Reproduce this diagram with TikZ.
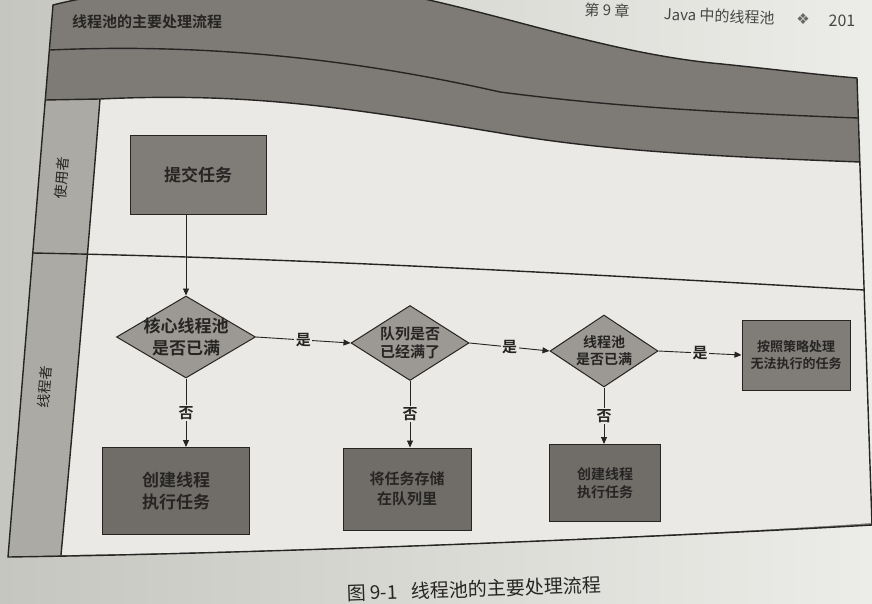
\documentclass[tikz,border=0pt]{standalone}
\usepackage{fontspec}
\setmainfont{Noto Sans CJK SC}[BoldFont={Noto Sans CJK SC Bold}]
\newfontfamily\symfont{DejaVu Sans}
\usetikzlibrary{shapes.geometric,arrows.meta}
\definecolor{pagebgL}{RGB}{198,198,193}
\definecolor{pagebgR}{RGB}{236,236,232}
\definecolor{bandgrey}{RGB}{126,123,119}
\definecolor{stripgrey}{RGB}{172,170,165}
\definecolor{areawhite}{RGB}{234,233,229}
\definecolor{boxgrey}{RGB}{128,125,121}
\definecolor{boxdark}{RGB}{112,109,105}
\definecolor{diagrey}{RGB}{156,153,149}
\definecolor{inkc}{RGB}{38,37,35}
\begin{document}
\begin{tikzpicture}[x=1pt,y=-1pt,
  frameline/.style={draw=inkc,line width=1.4pt},
  procbox/.style={draw=inkc,line width=1pt,fill=boxgrey,text=inkc,align=center,inner sep=2pt},
  darkbox/.style={procbox,fill=boxdark},
  decide/.style={diamond,draw=inkc,line width=1pt,fill=diagrey,inner sep=0pt},
  dtext/.style={text=inkc,align=center,inner sep=0pt},
  flow/.style={draw=inkc,line width=0.9pt,-{Triangle[length=7pt,width=6pt]}},
  lbl/.style={fill=areawhite,text=inkc,inner sep=1.5pt,font=\bfseries\fontsize{15}{15}\selectfont}
]
\useasboundingbox (0,0) rectangle (872,604);
\fill[left color=pagebgL,right color=pagebgR] (0,0) rectangle (872,604);

% frame (bands)
\fill[bandgrey] (53,5) .. controls (150,-20) and (330,-20) .. (420,-2)
  .. controls (520,20) and (620,55) .. (722,64)
  .. controls (780,70) and (820,75) .. (857,78) -- (872,525)
  .. controls (700,535) and (300,553) .. (8,557) -- cycle;
% lane label strip
\fill[stripgrey] (45,100) -- (100,99) .. controls (92,200) and (80,350) .. (61,555) -- (8,557) -- cycle;
% white content area
\fill[areawhite] (100,99) .. controls (250,92) and (350,108) .. (500,133)
  .. controls (600,150) and (700,156) .. (860,162) -- (872,523)
  .. controls (700,535) and (300,552) .. (61,555)
  .. controls (80,350) and (92,200) .. (100,99) -- cycle;

% lines
\draw[frameline] (50,50) .. controls (230,42) and (380,65) .. (500,92)
  .. controls (600,105) and (700,112) .. (858,118);
\draw[frameline] (45,100) -- (100,99) .. controls (250,92) and (350,108) .. (500,133)
  .. controls (600,150) and (700,156) .. (860,162);
\draw[frameline] (100,99) .. controls (92,200) and (80,350) .. (61,555);
\draw[frameline] (32,253) .. controls (300,258) and (600,275) .. (864,290);
\draw[frameline] (53,5) .. controls (150,-20) and (330,-20) .. (420,-2)
  .. controls (520,20) and (620,55) .. (722,64)
  .. controls (780,70) and (820,75) .. (857,78) -- (872,525)
  .. controls (700,535) and (300,553) .. (8,557) -- cycle;

% header and title
\node[font=\fontsize{15}{15}\selectfont,text=inkc!85,rotate=-2] (hchap) at (607,10) {第 9 章};
\node[font=\fontsize{15}{15}\selectfont,text=inkc!85,rotate=-2,anchor=east] (hname) at (778,18) {Java 中的线程池};
\node[font=\symfont\fontsize{15}{15}\selectfont,text=inkc!70] (hsym) at (803,19) {❖};
\node[font=\fontsize{16}{16}\selectfont,text=inkc!85] (hpage) at (842,21) {201};
\node[font=\bfseries\fontsize{15}{15}\selectfont,text=inkc] (title) at (147,22) {线程池的主要处理流程};

% lane labels
\node[rotate=85,font=\fontsize{14}{14}\selectfont,text=inkc] (lane1) at (62,178) {使用者};
\node[rotate=85,font=\fontsize{14}{14}\selectfont,text=inkc] (lane2) at (45,387) {线程者};

% process nodes
\node[procbox,minimum width=136pt,minimum height=78pt,font=\bfseries\fontsize{17}{20}\selectfont] (submit) at (198,175) {提交任务};

\node[decide,minimum width=139pt,minimum height=82pt] (d1) at (186,337) {};
\node[dtext,font=\bfseries\fontsize{17}{22}\selectfont] (d1t) at (d1) {核心线程池\\是否已满};
\node[decide,minimum width=118pt,minimum height=75pt] (d2) at (410,343) {};
\node[dtext,font=\bfseries\fontsize{15}{18}\selectfont] (d2t) at (d2) {队列是否\\已经满了};
\node[decide,minimum width=108pt,minimum height=72pt] (d3) at (604,351) {};
\node[dtext,font=\bfseries\fontsize{14}{17}\selectfont] (d3t) at (d3) {线程池\\是否已满};

\node[procbox,minimum width=108pt,minimum height=70pt,font=\bfseries\fontsize{13}{17}\selectfont] (b4) at (796,355) {按照策略处理\\无法执行的任务};
\node[darkbox,minimum width=147pt,minimum height=87pt,font=\bfseries\fontsize{17}{22}\selectfont] (b1) at (176,491) {创建线程\\执行任务};
\node[darkbox,minimum width=128pt,minimum height=82pt,font=\bfseries\fontsize{15}{20}\selectfont] (b2) at (407,489) {将任务存储\\在队列里};
\node[darkbox,minimum width=111pt,minimum height=77pt,font=\bfseries\fontsize{14}{18}\selectfont] (b3) at (605,483) {创建线程\\执行任务};

% connectors
\draw[flow] (d1.north |- submit.south) -- (d1.north);
\draw[flow] (d1.east) -- node[lbl] (y1) {是} (d2.west);
\draw[flow] (d2.east) -- node[lbl] (y2) {是} (d3.west);
\draw[flow] (d3.east) -- node[lbl] (y3) {是} (b4.west);
\draw[flow] (d1.south) -- node[lbl] (n1) {否} (d1.south |- b1.north);
\draw[flow] (d2.south) -- node[lbl] (n2) {否} (d2.south |- b2.north);
\draw[flow] (d3.south) -- node[lbl] (n3) {否} (d3.south |- b3.north);

% caption
\node[font=\fontsize{19}{19}\selectfont,text=inkc,rotate=2] (cap) at (474,589) {图 9-1\hspace{0.7em}线程池的主要处理流程};
\end{tikzpicture}
\end{document}
